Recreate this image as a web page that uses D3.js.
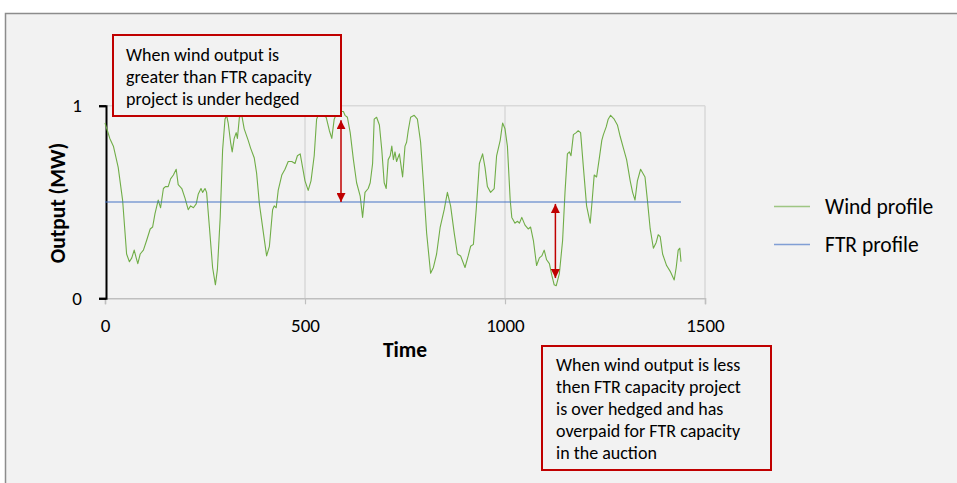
<!DOCTYPE html>
<html>
<head>
<meta charset="utf-8">
<script src="https://cdn.jsdelivr.net/npm/d3@7"></script>
<style>
  html, body { margin: 0; padding: 0; background: #ffffff; }
  svg { display: block; }
  text { font-family: Carlito, Lato, "Open Sans", sans-serif; fill: #000; }
</style>
</head>
<body>
<svg id="chart" width="957" height="483"></svg>
<script>
// ---- data ----
const windTime = [0,12,21,33,44,54,61,67,73,78,82,88,96,104,113,119,125,133,139,146,151,158,164,171,178,183,192,200,208,214,221,228,233,240,244,250,254,261,269,276,281,288,294,300,304,308,314,318,323,328,331,336,342,348,358,364,373,379,386,396,404,411,419,423,428,433,442,450,458,467,475,481,488,494,500,508,515,523,529,535,544,553,561,567,573,581,589,596,600,606,613,621,629,638,644,650,658,663,669,673,679,686,692,698,703,708,713,717,721,725,729,736,744,750,754,758,764,773,781,789,796,804,814,821,829,838,848,856,864,873,881,889,900,908,914,921,928,936,944,950,956,964,973,979,988,994,1000,1006,1013,1017,1025,1031,1036,1042,1050,1058,1064,1071,1079,1086,1092,1098,1104,1111,1117,1123,1128,1136,1144,1150,1156,1161,1165,1171,1178,1183,1189,1196,1204,1213,1218,1223,1229,1236,1242,1246,1253,1258,1264,1273,1281,1288,1296,1304,1313,1319,1325,1331,1339,1350,1356,1363,1371,1378,1383,1388,1394,1404,1413,1423,1428,1433,1437,1440];
const windOutput = [0.91,0.83,0.79,0.68,0.51,0.23,0.19,0.21,0.25,0.21,0.18,0.23,0.25,0.30,0.36,0.37,0.44,0.51,0.47,0.57,0.58,0.58,0.62,0.64,0.67,0.59,0.57,0.52,0.46,0.48,0.47,0.49,0.54,0.57,0.55,0.57,0.55,0.37,0.16,0.07,0.15,0.42,0.77,0.93,0.95,0.91,0.81,0.76,0.83,0.86,0.83,0.94,0.95,0.88,0.82,0.78,0.73,0.65,0.49,0.34,0.22,0.27,0.46,0.48,0.47,0.56,0.64,0.67,0.71,0.71,0.70,0.74,0.75,0.68,0.61,0.56,0.61,0.74,0.93,0.96,0.95,0.94,0.87,0.83,0.93,0.97,0.97,0.97,0.95,0.94,0.86,0.72,0.60,0.53,0.42,0.55,0.57,0.60,0.70,0.93,0.94,0.90,0.77,0.60,0.57,0.72,0.74,0.79,0.72,0.76,0.71,0.75,0.63,0.79,0.81,0.87,0.94,0.95,0.93,0.81,0.60,0.34,0.13,0.16,0.23,0.37,0.46,0.55,0.48,0.34,0.23,0.22,0.16,0.22,0.27,0.28,0.46,0.70,0.75,0.68,0.58,0.55,0.57,0.74,0.82,0.91,0.88,0.79,0.51,0.42,0.39,0.40,0.39,0.42,0.38,0.36,0.37,0.30,0.17,0.21,0.22,0.25,0.20,0.18,0.12,0.07,0.065,0.13,0.30,0.55,0.75,0.76,0.74,0.85,0.86,0.87,0.86,0.68,0.48,0.39,0.51,0.64,0.63,0.73,0.82,0.85,0.89,0.93,0.95,0.93,0.90,0.84,0.78,0.72,0.61,0.55,0.51,0.61,0.67,0.63,0.51,0.36,0.26,0.29,0.33,0.32,0.23,0.17,0.14,0.095,0.16,0.25,0.26,0.19];
const ftrTime = [0, 1440];
const ftrOutput = [0.5, 0.5];
const xTicks = [0, 500, 1000, 1500];
const yTicks = [0, 1];
const seriesNames = ["Wind profile", "FTR profile"];
const seriesColors = ["#70ad47", "#4472c4"];
const xTitle = "Time";
const yTitle = "Output (MW)";
// annotation arrows: [time, fromValue, toValue]
const arrowTimes = [590, 1126];
const arrowFrom = [0.5, 0.49];
const arrowTo = [0.925, 0.105];
const note1 = ["When wind output is", "greater than FTR capacity", "project is under hedged"];
const note2 = ["When wind output is less", "then FTR capacity project", "is over hedged and has", "overpaid for FTR capacity", "in the auction"];

// ---- drawing ----
const svg = d3.select("#chart");
const x = d3.scaleLinear().domain([0, 1500]).range([105, 705]);
const y = d3.scaleLinear().domain([0, 1]).range([298.3, 105.7]);

// panel
svg.append("rect").attr("x", 5.5).attr("y", 13.5).attr("width", 960).attr("height", 480)
  .attr("fill", "#f2f2f2").attr("stroke", "#8c8c8c").attr("stroke-width", 1.5);

// grid
const grid = svg.append("g");
xTicks.filter(d => d > 0).forEach(d => {
  grid.append("line").attr("x1", x(d)).attr("x2", x(d)).attr("y1", y(1)).attr("y2", y(0))
    .attr("stroke", "#d9d9d9").attr("stroke-width", 1.5);
});
grid.append("line").attr("x1", x(0)).attr("x2", x(1500)).attr("y1", y(1)).attr("y2", y(1))
  .attr("stroke", "#d9d9d9").attr("stroke-width", 1.5);

// x axis
const xAxis = d3.axisBottom(x).tickValues(xTicks).tickSize(6).tickPadding(14).tickFormat(d3.format("d"));
const gx = svg.append("g").attr("transform", `translate(0,${y(0)})`).call(xAxis);
gx.select(".domain").attr("stroke", "#bfbfbf").attr("stroke-width", 1.5);
gx.selectAll(".tick line").attr("stroke", "#bfbfbf").attr("stroke-width", 1.2);
gx.selectAll(".tick text").attr("font-size", 19).attr("font-family", "Carlito, Lato, sans-serif").attr("fill", "#000");

// y axis
const yAxis = d3.axisLeft(y).tickValues(yTicks).tickSize(7).tickPadding(17).tickFormat(d3.format("d"));
const gy = svg.append("g").attr("transform", `translate(${x(0) + 1},0)`).call(yAxis);
gy.select(".domain").attr("stroke", "#000").attr("stroke-width", 2);
gy.selectAll(".tick line").attr("stroke", "#000").attr("stroke-width", 2);
gy.selectAll(".tick text").attr("font-size", 19).attr("font-family", "Carlito, Lato, sans-serif").attr("fill", "#000");

// axis titles
svg.append("text").attr("x", 405).attr("y", 357).attr("text-anchor", "middle")
  .attr("font-size", 21.5).attr("font-weight", "bold").text(xTitle);
svg.append("text").attr("transform", "translate(65,203) rotate(-90)").attr("text-anchor", "middle")
  .attr("font-size", 21.5).attr("font-weight", "bold").text(yTitle);

// series
const windData = windTime.map((t, i) => [t, windOutput[i]]);
const ftrData = ftrTime.map((t, i) => [t, ftrOutput[i]]);
const line = d3.line().x(d => x(d[0])).y(d => y(d[1]));
svg.append("path").datum(windData).attr("d", line).attr("fill", "none")
  .attr("stroke", seriesColors[0]).attr("stroke-width", 1.1).attr("stroke-linejoin", "round");
svg.append("path").datum(ftrData).attr("d", line).attr("fill", "none")
  .attr("stroke", seriesColors[1]).attr("stroke-width", 1.1);

// arrows
const defs = svg.append("defs");
defs.append("marker").attr("id", "ah").attr("viewBox", "0 0 10 10").attr("refX", 10).attr("refY", 5)
  .attr("markerWidth", 9).attr("markerHeight", 9).attr("markerUnits", "userSpaceOnUse")
  .attr("orient", "auto-start-reverse")
  .append("path").attr("d", "M0,0 L10,5 L0,10 Z").attr("fill", "#c00000");
arrowTimes.forEach((t, i) => {
  svg.append("line").attr("x1", x(t)).attr("x2", x(t)).attr("y1", y(arrowFrom[i])).attr("y2", y(arrowTo[i]))
    .attr("stroke", "#c00000").attr("stroke-width", 1.5)
    .attr("marker-start", "url(#ah)").attr("marker-end", "url(#ah)");
});

// note boxes
function noteBox(bx, by, bw, bh, lines, tx, ty) {
  svg.append("rect").attr("x", bx).attr("y", by).attr("width", bw).attr("height", bh)
    .attr("fill", "#f2f2f2").attr("stroke", "#c00000").attr("stroke-width", 2);
  const t = svg.append("text").attr("font-size", 18).attr("fill", "#262626");
  lines.forEach((l, i) => {
    t.append("tspan").attr("x", tx).attr("y", ty + i * 22).text(l);
  });
}
noteBox(113, 35, 228, 81, note1, 126, 61);
noteBox(542, 346, 229, 124, note2, 556, 371);

// legend
seriesNames.forEach((name, i) => {
  const ly = 206.5 + i * 38;
  svg.append("line").attr("x1", 774).attr("x2", 810).attr("y1", ly).attr("y2", ly)
    .attr("stroke", seriesColors[i]).attr("stroke-width", 1.3).attr("stroke-opacity", 0.65);
  svg.append("text").attr("x", 825).attr("y", ly + 7).attr("font-size", 21.5).attr("fill", "#262626").text(name);
});
</script>
</body>
</html>
